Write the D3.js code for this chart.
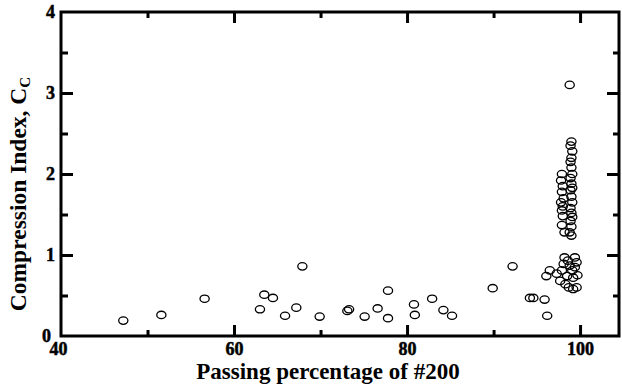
<!DOCTYPE html>
<html>
<head>
<meta charset="utf-8">
<script src="https://cdn.jsdelivr.net/npm/d3@7"></script>
<style>
  html, body { margin: 0; padding: 0; background: #fff; }
  svg { display: block; }
  text { font-family: "Liberation Serif", "Times New Roman", serif; font-weight: bold; fill: #000; }
</style>
</head>
<body>
<svg id="chart" width="622" height="388"></svg>
<script>
// Passing percentage of #200 sieve (x) and compression index Cc (y)
const passing = [
  47.2, 51.6, 56.6, 63.0, 63.5, 64.5, 65.9, 67.2, 67.9, 69.9,
  73.1, 73.3, 75.1, 76.6, 77.8, 77.8, 80.8, 80.9, 82.9, 84.2,
  85.2, 89.9, 92.2, 94.2, 94.6, 95.9, 96.2,
  // cluster below Cc = 1
  96.1, 96.5, 97.3, 97.7, 97.9, 98.1, 98.2, 98.3, 98.5, 98.7,
  98.8, 99.1, 99.2, 99.2, 99.4, 99.4, 99.6, 99.6, 99.7, 98.6,
  // column near 98%
  97.9, 97.8, 98.0, 97.9, 98.1, 97.8, 98.0, 97.9, 98.0, 97.9, 98.2,
  // column near 99%
  99.0, 98.9, 99.1, 99.0, 98.9, 99.0, 99.1, 98.9, 99.0, 99.1,
  98.9, 99.0, 99.1, 98.9, 99.0, 99.1, 98.9, 99.0, 98.8, 99.0,
  98.8
];
const compressionIndex = [
  0.19, 0.26, 0.46, 0.33, 0.51, 0.47, 0.25, 0.35, 0.86, 0.24,
  0.31, 0.33, 0.24, 0.34, 0.56, 0.22, 0.39, 0.26, 0.46, 0.32,
  0.25, 0.59, 0.86, 0.47, 0.47, 0.45, 0.25,
  0.74, 0.81, 0.77, 0.68, 0.81, 0.89, 0.97, 0.64, 0.74, 0.60,
  0.87, 0.81, 0.72, 0.58, 0.85, 0.97, 0.60, 0.91, 0.75, 0.93,
  2.00, 1.92, 1.85, 1.78, 1.70, 1.65, 1.60, 1.55, 1.48, 1.37, 1.28,
  2.40, 2.35, 2.28, 2.20, 2.15, 2.08, 2.00, 1.95, 1.88, 1.83,
  1.80, 1.72, 1.65, 1.58, 1.52, 1.47, 1.42, 1.35, 1.28, 1.24,
  3.10
];

const xMajorTicks = [40, 60, 80, 100];
const xMinorTicks = [50, 70, 90];
const yMajorTicks = [0, 1, 2, 3, 4];
const yMinorTicks = [0.5, 1.5, 2.5, 3.5];

const svg = d3.select("#chart");
const plotLeft = 61, plotRight = 619, plotTop = 12, plotBottom = 336;

const x = d3.scaleLinear().domain([40, 104.5]).range([plotLeft, plotRight]);
const y = d3.scaleLinear().domain([0, 4]).range([plotBottom, plotTop]);

const axisStroke = 3;
const tickFont = 18;

// frame
svg.append("rect")
  .attr("x", plotLeft).attr("y", plotTop)
  .attr("width", plotRight - plotLeft).attr("height", plotBottom - plotTop)
  .attr("fill", "none").attr("stroke", "#000").attr("stroke-width", axisStroke);

function styleAxis(g) {
  g.attr("font-size", null).attr("font-family", null);
  g.select(".domain").remove();
  g.selectAll(".tick line").attr("stroke", "#000").attr("stroke-width", 3);
  g.selectAll(".tick text")
    .style("font-size", tickFont + "px")
    .style("font-weight", "bold")
    .attr("stroke", "#000").attr("stroke-width", 0.5);
}

// bottom axis: major ticks with labels, minor ticks without
svg.append("g").attr("transform", `translate(0,${plotBottom})`)
  .call(d3.axisBottom(x).tickValues(xMajorTicks).tickSize(-11).tickFormat(d3.format("d")))
  .call(styleAxis)
  .call(g => g.selectAll(".tick text").attr("y", 19).attr("dy", 0))
  .call(g => g.selectAll(".tick").filter(d => d === 40).select("line").remove())
  .call(g => g.selectAll(".tick").filter(d => d === 40).select("text").attr("dx", -3));
svg.append("g").attr("transform", `translate(0,${plotBottom})`)
  .call(d3.axisBottom(x).tickValues(xMinorTicks).tickSize(-6).tickFormat(""))
  .call(styleAxis)
  .call(g => g.selectAll(".tick text").remove());

// top mirrored ticks
svg.append("g").attr("transform", `translate(0,${plotTop})`)
  .call(d3.axisTop(x).tickValues(xMajorTicks.filter(d => d !== 40)).tickSize(-11).tickFormat(""))
  .call(styleAxis)
  .call(g => g.selectAll(".tick text").remove());
svg.append("g").attr("transform", `translate(0,${plotTop})`)
  .call(d3.axisTop(x).tickValues(xMinorTicks).tickSize(-6).tickFormat(""))
  .call(styleAxis)
  .call(g => g.selectAll(".tick text").remove());

// left axis
svg.append("g").attr("transform", `translate(${plotLeft},0)`)
  .call(d3.axisLeft(y).tickValues(yMajorTicks).tickSize(-12).tickFormat(d3.format("d")))
  .call(styleAxis)
  .call(g => g.selectAll(".tick text").attr("x", -6))
  .call(g => g.selectAll(".tick").filter(d => d === 0 || d === 4).select("line").remove())
  .call(g => g.selectAll(".tick").filter(d => d === 0).select("text").attr("dx", -4));
svg.append("g").attr("transform", `translate(${plotLeft},0)`)
  .call(d3.axisLeft(y).tickValues(yMinorTicks).tickSize(-7).tickFormat(""))
  .call(styleAxis)
  .call(g => g.selectAll(".tick text").remove());

// right mirrored ticks
svg.append("g").attr("transform", `translate(${plotRight},0)`)
  .call(d3.axisRight(y).tickValues(yMajorTicks.filter(d => d > 0 && d < 4)).tickSize(-12).tickFormat(""))
  .call(styleAxis)
  .call(g => g.selectAll(".tick text").remove());
svg.append("g").attr("transform", `translate(${plotRight},0)`)
  .call(d3.axisRight(y).tickValues(yMinorTicks).tickSize(-6).tickFormat(""))
  .call(styleAxis)
  .call(g => g.selectAll(".tick text").remove());

// data points: open circles
const points = passing.map((p, i) => ({ p, c: compressionIndex[i] }));
svg.append("g").selectAll("ellipse").data(points).join("ellipse")
  .attr("cx", d => x(d.p))
  .attr("cy", d => y(d.c))
  .attr("rx", 4.6).attr("ry", 3.7)
  .attr("fill", "none")
  .attr("stroke", "#000")
  .attr("stroke-width", 1.3);

// axis titles
svg.append("text")
  .attr("x", 328).attr("y", 379)
  .attr("text-anchor", "middle")
  .style("font-size", "23px")
  .text("Passing percentage of #200");

const yTitle = svg.append("text")
  .attr("transform", "translate(26,194) rotate(-90)")
  .attr("text-anchor", "middle")
  .style("font-size", "23.5px");
yTitle.append("tspan").text("Compression Index, C");
yTitle.append("tspan").style("font-size", "15px").attr("dy", 4).text("C");
</script>
</body>
</html>
